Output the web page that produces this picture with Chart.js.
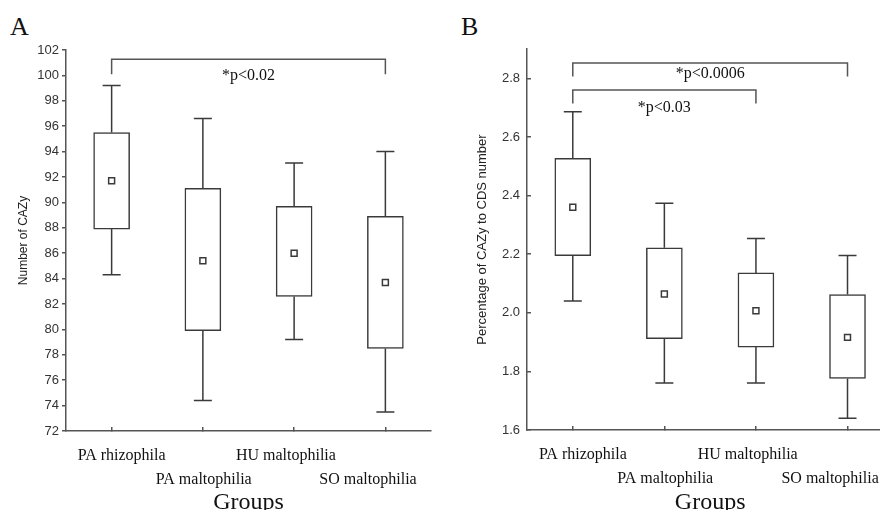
<!DOCTYPE html>
<html>
<head>
<meta charset="utf-8">
<script src="https://cdn.jsdelivr.net/npm/chart.js@4.4.1/dist/chart.umd.min.js"></script>
<style>
  html, body { margin: 0; padding: 0; background: #fff; }
  body { width: 880px; height: 510px; overflow: hidden; position: relative; }
  canvas { position: absolute; top: 0; }
  .letter { position: absolute; font-family: "Liberation Serif", "Times New Roman", serif; font-size: 26px; line-height: 1; color: #111; }
</style>
</head>
<body>
<div class="letter" style="left:10px; top:14px;">A</div>
<div class="letter" style="left:461px; top:14px;">B</div>
<canvas id="chartA" style="left:0" width="440" height="520"></canvas>
<canvas id="chartB" style="left:440px" width="459" height="520"></canvas>
<script>
// ─── DATA ─────────────────────────────────────────────────────────────────────
const groups = ['PA rhizophila', 'PA maltophilia', 'HU maltophilia', 'SO maltophilia'];

// A: Number of CAZy
const cazyMin  = [84.3, 74.4, 79.2, 73.5];
const cazyQ1   = [87.9, 79.9, 82.6, 78.5];
const cazyMean = [91.7, 85.4, 86.0, 83.7];
const cazyQ3   = [95.5, 91.1, 89.7, 88.9];
const cazyMax  = [99.2, 96.6, 93.1, 94.0];
const cazyTicks = [72, 74, 76, 78, 80, 82, 84, 86, 88, 90, 92, 94, 96, 98, 100, 102];
const cazyBrackets = [
    { from: 0, to: 3, level: 101.27, foot: 100.1, text: '*p<0.02', textAt: 1.5, textY: 99.95 }
];

// B: Percentage of CAZy to CDS number
const pctMin  = [2.04, 1.76, 1.76, 1.64];
const pctQ1   = [2.195, 1.912, 1.883, 1.776];
const pctMean = [2.36, 2.064, 2.007, 1.916];
const pctQ3   = [2.527, 2.222, 2.136, 2.062];
const pctMax  = [2.686, 2.374, 2.253, 2.195];
const pctTicks = [1.6, 1.8, 2.0, 2.2, 2.4, 2.6, 2.8];
const pctBrackets = [
    { from: 0, to: 3, level: 2.852, foot: 2.806, text: '*p<0.0006', textAt: 1.5, textY: 2.815 },
    { from: 0, to: 2, level: 2.760, foot: 2.714, text: '*p<0.03',   textAt: 1.0, textY: 2.699 }
];

// ─── STYLE ────────────────────────────────────────────────────────────────────
const SERIF = '"Liberation Serif", "Times New Roman", serif';
const SANS  = '"Liberation Sans", Arial, sans-serif';
const INK   = '#3a3a3a';
const AXIS  = '#555';
const BOX_W = 36;
const LABEL_SPREAD = 0.9;  // group labels sit a bit closer together than the ticks
const LABEL_SHIFT = -0.04; // and a touch to the left

// whiskers, brackets and staggered group labels, all through the chart scales
const boxExtras = {
    id: 'boxExtras',
    afterDatasetsDraw(chart, args, o) {
        const { ctx } = chart;
        const x = chart.scales.x, y = chart.scales.y;
        const cap = BOX_W / 4;
        ctx.save();
        ctx.strokeStyle = INK;
        ctx.lineWidth = 1.5;
        ctx.beginPath();
        o.lo.forEach((lo, i) => {
            const cx = x.getPixelForValue(i);
            const pLo = y.getPixelForValue(lo), pHi = y.getPixelForValue(o.hi[i]);
            const pQ1 = y.getPixelForValue(o.q1[i]), pQ3 = y.getPixelForValue(o.q3[i]);
            ctx.moveTo(cx, pQ1); ctx.lineTo(cx, pLo);
            ctx.moveTo(cx - cap, pLo); ctx.lineTo(cx + cap, pLo);
            ctx.moveTo(cx, pQ3); ctx.lineTo(cx, pHi);
            ctx.moveTo(cx - cap, pHi); ctx.lineTo(cx + cap, pHi);
        });
        ctx.stroke();

        ctx.strokeStyle = AXIS;
        ctx.fillStyle = '#111';
        ctx.font = '16px ' + SERIF;
        ctx.textAlign = 'center';
        ctx.textBaseline = 'middle';
        o.brackets.forEach(b => {
            const x0 = x.getPixelForValue(b.from), x1 = x.getPixelForValue(b.to);
            const yl = y.getPixelForValue(b.level), yf = y.getPixelForValue(b.foot);
            ctx.beginPath();
            ctx.moveTo(x0, yf); ctx.lineTo(x0, yl); ctx.lineTo(x1, yl); ctx.lineTo(x1, yf);
            ctx.stroke();
            ctx.fillText(b.text, x.getPixelForValue(b.textAt), y.getPixelForValue(b.textY));
        });

        ctx.textBaseline = 'alphabetic';
        const mid = (o.labels.length - 1) / 2;
        o.labels.forEach((t, i) => {
            const px = x.getPixelForValue(mid + LABEL_SHIFT + (i - mid) * LABEL_SPREAD);
            ctx.fillText(t, px, x.top + (i % 2 ? 53 : 29));
        });
        ctx.restore();
    }
};

function buildPanel(id, p) {
    return new Chart(document.getElementById(id), {
        data: {
            labels: groups,
            datasets: [
                {
                    type: 'line',
                    data: p.mean,
                    showLine: false,
                    pointStyle: 'rect',
                    pointRadius: 4.2,
                    pointBorderWidth: 1.5,
                    pointBorderColor: INK,
                    pointBackgroundColor: '#fff',
                    order: 0
                },
                {
                    type: 'bar',
                    data: p.q1.map((v, i) => [v, p.q3[i]]),
                    backgroundColor: '#fff',
                    borderColor: INK,
                    borderWidth: 1.5,
                    borderSkipped: false,
                    barThickness: BOX_W,
                    order: 1
                }
            ]
        },
        options: {
            responsive: false,
            animation: false,
            devicePixelRatio: 1,
            layout: { padding: p.padding },
            plugins: {
                legend: { display: false },
                tooltip: { enabled: false },
                boxExtras: { lo: p.min, hi: p.max, q1: p.q1, q3: p.q3, brackets: p.brackets, labels: groups }
            },
            scales: {
                x: {
                    offset: true,
                    grid: { offset: false, drawOnChartArea: false, tickLength: -4, color: AXIS, lineWidth: 1.5 },
                    border: { color: AXIS, width: 1.5 },
                    ticks: { display: false },
                    title: { display: true, text: 'Groups', color: '#111', font: { family: SERIF, size: 24 }, padding: { top: 0, bottom: 3 } },
                    afterFit: s => { s.height = p.xHeight; }
                },
                y: {
                    min: p.yMin,
                    max: p.yMax,
                    afterBuildTicks: s => { s.ticks = p.ticks.map(v => ({ value: v })); },
                    grid: { drawOnChartArea: false, tickLength: p.tickLen, color: AXIS, lineWidth: 1.5 },
                    border: { color: AXIS, width: 1.5 },
                    ticks: { color: '#333', font: { family: SANS, size: 13 }, padding: p.tickPad, callback: p.fmt },
                    title: { display: true, text: p.title, color: '#222', font: { family: SANS, size: p.titleSize }, padding: { top: p.titlePad, bottom: 0 } },
                    afterFit: s => { s.width = p.yWidth; }
                }
            }
        },
        plugins: [boxExtras]
    });
}

buildPanel('chartA', {
    min: cazyMin, q1: cazyQ1, mean: cazyMean, q3: cazyQ3, max: cazyMax,
    ticks: cazyTicks, brackets: cazyBrackets,
    yMin: 72, yMax: 102, fmt: v => v,
    title: 'Number of CAZy', titleSize: 12, titlePad: 16,
    tickLen: 4, tickPad: 3,
    yWidth: 66, xHeight: 89,
    padding: { top: 50, right: 9, bottom: 0, left: 0 }
});

buildPanel('chartB', {
    min: pctMin, q1: pctQ1, mean: pctMean, q3: pctQ3, max: pctMax,
    ticks: pctTicks, brackets: pctBrackets,
    yMin: 1.6, yMax: 2.9, fmt: v => v.toFixed(1),
    title: 'Percentage of CAZy to CDS number', titleSize: 13, titlePad: 35,
    tickLen: -4, tickPad: 11,
    yWidth: 87, xHeight: 90,
    padding: { top: 49, right: 0, bottom: 0, left: 0 }
});
</script>
</body>
</html>
